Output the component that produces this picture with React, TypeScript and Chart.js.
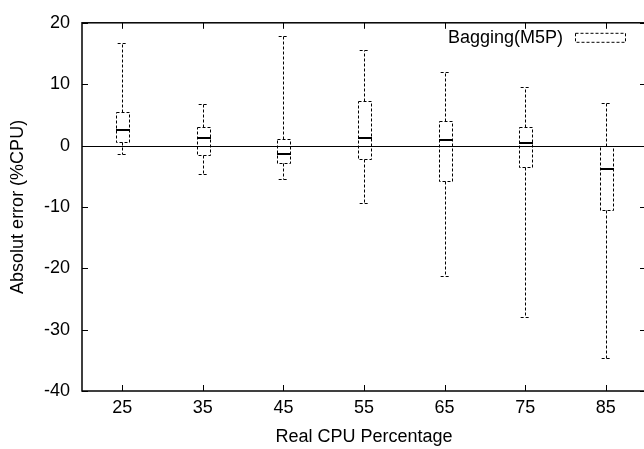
import { useEffect, useRef } from 'react';
import { Chart, registerables } from 'chart.js';

Chart.register(...registerables);

// ---- data ----
const categories = ['25', '35', '45', '55', '65', '75', '85'];
const whiskerLow = [-1.3, -4.7, -5.4, -9.4, -21.3, -28.0, -34.6];
const q1 = [0.5, -1.6, -2.8, -2.2, -5.85, -3.5, -10.5];
const medians = [2.5, 1.3, -1.4, 1.3, 0.95, 0.42, -3.9];
const q3 = [5.5, 3.05, 1.05, 7.26, 4.0, 3.0, -0.1];
const whiskerHigh = [16.7, 6.8, 17.9, 15.5, 11.95, 9.47, 6.95];
const yMin = -40;
const yMax = 20;
const yStep = 10;
const seriesName = 'Bagging(M5P)';
const xTitle = 'Real CPU Percentage';
const yTitle = 'Absolut error (%CPU)';

const FONT = '"Liberation Sans", Arial, Helvetica, sans-serif';
const FONT_SIZE = 18;

const boxPlugin = {
  id: 'gnuBoxplot',
  afterDatasetsDraw(chart: any) {
    const { ctx, chartArea: a, scales } = chart;
    const xs = scales.x;
    const ys = scales.y;
    const step = xs.getPixelForValue(1) - xs.getPixelForValue(0);
    const hw = step * 0.075;
    const capHw = hw * 0.8;
    const seg = (x1: number, y1: number, x2: number, y2: number) => {
      ctx.beginPath();
      ctx.moveTo(x1, y1);
      ctx.lineTo(x2, y2);
      ctx.stroke();
    };
    ctx.save();

    // zero axis
    const y0 = Math.round(ys.getPixelForValue(0)) + 0.5;
    ctx.strokeStyle = '#000';
    ctx.lineWidth = 1;
    ctx.setLineDash([]);
    seg(a.left, y0, a.right, y0);

    categories.forEach((_, i) => {
      const cx = Math.round(xs.getPixelForValue(i)) + 0.5;
      const l = Math.round(cx - hw);
      const r = Math.round(cx + hw);
      const pLow = Math.round(ys.getPixelForValue(whiskerLow[i])) + 0.5;
      const pQ1 = Math.round(ys.getPixelForValue(q1[i])) + 0.5;
      const pMed = Math.round(ys.getPixelForValue(medians[i]));
      const pQ3 = Math.round(ys.getPixelForValue(q3[i])) + 0.5;
      const pHigh = Math.round(ys.getPixelForValue(whiskerHigh[i])) + 0.5;

      ctx.strokeStyle = '#000';
      ctx.lineWidth = 1;
      ctx.setLineDash([3, 2]);
      // box
      ctx.beginPath();
      ctx.rect(l + 0.5, pQ3, r - l, pQ1 - pQ3);
      ctx.stroke();
      // whiskers
      seg(cx, pQ3, cx, pHigh);
      seg(cx, pQ1, cx, pLow);
      // caps
      seg(cx - capHw, pHigh, cx + capHw, pHigh);
      seg(cx - capHw, pLow, cx + capHw, pLow);
      // median
      ctx.setLineDash([]);
      ctx.strokeStyle = '#000';
      ctx.lineWidth = 2;
      seg(l, pMed, r + 1, pMed);
    });

    // frame
    ctx.setLineDash([]);
    ctx.strokeStyle = '#000';
    ctx.lineWidth = 1.5;
    ctx.strokeRect(a.left, a.top, a.right - a.left, a.bottom - a.top);

    // inward ticks on all four sides
    ctx.lineWidth = 1;
    const tl = 6;
    ys.ticks.forEach((t: any) => {
      const py = Math.round(ys.getPixelForValue(t.value)) + 0.5;
      seg(a.left, py, a.left + tl, py);
      seg(a.right - tl, py, a.right, py);
    });
    xs.ticks.forEach((_: any, i: number) => {
      const px = Math.round(xs.getPixelForTick(i)) + 0.5;
      seg(px, a.bottom, px, a.bottom - tl);
      seg(px, a.top, px, a.top + tl);
    });

    // legend (gnuplot style: text then sample)
    const ly = a.top + 15.5;
    ctx.fillStyle = '#000';
    ctx.font = `${FONT_SIZE}px ${FONT}`;
    ctx.textAlign = 'right';
    ctx.textBaseline = 'middle';
    ctx.fillText(seriesName, a.right - 83, ly);
    ctx.strokeStyle = '#000';
    ctx.lineWidth = 1;
    ctx.setLineDash([3, 2]);
    ctx.strokeRect(a.right - 70.5, a.top + 10.5, 50, 9);

    ctx.restore();
  },
};

export default function App() {
  const ref = useRef<HTMLCanvasElement>(null);
  useEffect(() => {
    document.body.style.margin = '0';
    Chart.defaults.font.family = FONT;
    Chart.defaults.font.size = FONT_SIZE;
    Chart.defaults.color = '#000';
    const chart = new Chart(ref.current as HTMLCanvasElement, {
      type: 'line',
      data: {
        labels: categories,
        datasets: [
          {
            label: seriesName,
            data: medians,
            showLine: false,
            pointRadius: 0,
            borderWidth: 0,
          },
        ],
      },
      options: {
        animation: false,
        responsive: false,
        layout: { padding: { left: 0, top: 11, right: 14, bottom: 0 } },
        plugins: {
          legend: { display: false },
          tooltip: { enabled: false },
        },
        scales: {
          x: {
            type: 'category',
            offset: true,
            grid: { display: false, drawTicks: false },
            border: { display: false },
            ticks: { padding: 6, color: '#000', maxRotation: 0 },
            title: {
              display: true,
              text: xTitle,
              color: '#000',
              padding: { top: 0, bottom: 1 },
            },
            afterFit: (s: any) => {
              s.height = 58;
            },
          },
          y: {
            type: 'linear',
            min: yMin,
            max: yMax,
            grid: { display: false, drawTicks: false },
            border: { display: false },
            ticks: { stepSize: yStep, padding: 12, color: '#000' },
            title: {
              display: true,
              text: yTitle,
              color: '#000',
              padding: { top: 7, bottom: 0 },
            },
            afterFit: (s: any) => {
              s.width = 82;
            },
          },
        },
      },
      plugins: [boxPlugin],
    });
    return () => chart.destroy();
  }, []);
  return (
    <div
      style={{
        position: 'fixed',
        left: 0,
        top: 0,
        width: 644,
        height: 449,
        overflow: 'hidden',
        background: '#fff',
      }}
    >
      <canvas
        ref={ref}
        width={660}
        height={449}
        style={{ display: 'block', width: 660, height: 449 }}
      />
    </div>
  );
}
